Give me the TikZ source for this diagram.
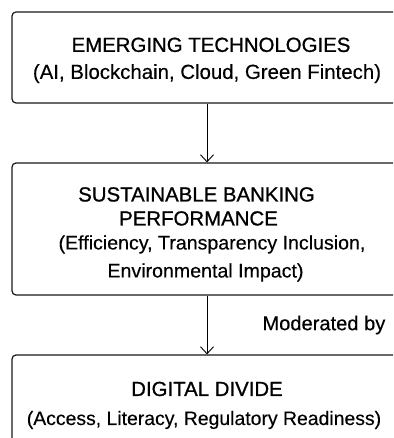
\documentclass[tikz,border=0pt]{standalone}
\usepackage{fontspec}
\setmainfont{Liberation Sans}[FakeBold=0.3]
\newfontfamily\headfont{Liberation Sans}[FakeBold=0.9]
\usetikzlibrary{arrows.meta,positioning}
\tikzset{
  stage/.style={rectangle,rounded corners=4pt,draw=black!90,line width=1.2pt,
    minimum width=390pt,align=center,inner sep=0pt,
    font=\fontsize{20.4}{24}\selectfont},
  flow/.style={-{Straight Barb[length=7pt,width=13pt]},line width=0.9pt},
  note/.style={font=\fontsize{20.1}{24}\selectfont,inner sep=0pt}
}
\newcommand{\head}[1]{{\headfont #1}}
\newcommand{\sub}[2]{{\fontsize{#1}{24}\selectfont #2}}
\begin{document}
\begin{tikzpicture}[x=1pt,y=-1pt]
\useasboundingbox (0,0) rectangle (393,438);
\clip (0,0) rectangle (393,438);
% the three stages, cut off at the right edge
\node[stage,minimum height=91pt] (tech) at (207,57.5)
  {\rule{0pt}{20pt}\hspace*{8pt}\head{EMERGING TECHNOLOGIES}\\[3pt]
   (AI, Blockchain, Cloud, Green Fintech)};
\node[stage,minimum height=132pt] (perf) at (207,229)
  {\rule{0pt}{25pt}\hspace*{-21pt}\head{SUSTAINABLE BANKING}\\
   \hspace*{-17pt}\head{PERFORMANCE}\\
   \hspace*{10pt}\sub{19.6}{(Efficiency, Transparency Inclusion,}\\[4pt]
   \hspace*{-3pt}\sub{19.6}{Environmental Impact)}};
\node[stage,minimum height=93pt] (divide) at (207,401.5)
  {\rule{0pt}{22pt}\head{DIGITAL DIVIDE}\\[5pt]
   \hspace*{-6pt}\sub{19.4}{(Access, Literacy, Regulatory Readiness)}};
% connectors
\draw[flow] (tech) -- (perf);
\draw[flow] (perf) -- node[note,right=55pt] (mod) {Moderated by} (divide);
\end{tikzpicture}
\end{document}
